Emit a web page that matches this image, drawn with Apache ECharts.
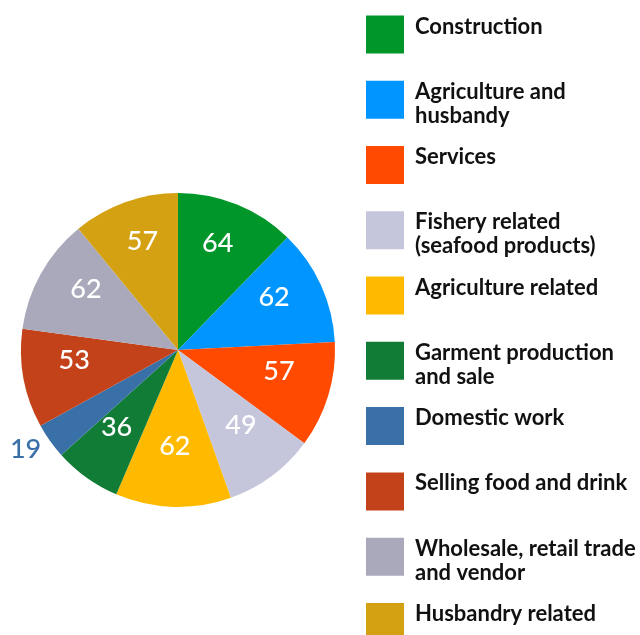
<!DOCTYPE html>
<html>
<head>
<meta charset="utf-8">
<script src="https://cdn.jsdelivr.net/npm/echarts@6/dist/echarts.min.js"></script>
<style>
html,body{margin:0;padding:0;background:#fff;}
#chart{width:640px;height:635px;}
</style>
</head>
<body>
<div id="chart"></div>
<script>
const categories = [
  'Construction',
  'Agriculture and husbandy',
  'Services',
  'Fishery related (seafood products)',
  'Agriculture related',
  'Garment production and sale',
  'Domestic work',
  'Selling food and drink',
  'Wholesale, retail trade and vendor',
  'Husbandry related'
];
const values = [64, 62, 57, 49, 62, 36, 19, 53, 62, 57];
const legendLabels = [
  ['Construction'],
  ['Agriculture and', 'husbandy'],
  ['Services'],
  ['Fishery related', '(seafood products)'],
  ['Agriculture related'],
  ['Garment production', 'and sale'],
  ['Domestic work'],
  ['Selling food and drink'],
  ['Wholesale, retail trade', 'and vendor'],
  ['Husbandry related']
];
const colors = ['#00962a', '#0095ff', '#ff4a00', '#c5c6dc', '#ffba00', '#117c36', '#3a70a8', '#c4421a', '#a9a9bb', '#d4a112'];
const outsideLabelIndex = 6;

const FONT = 'Lato, "Noto Sans", sans-serif';
const center = [178, 350];
const labelCenter = [178, 341];
const R = 157;

const mainData = categories.map((c, i) => ({ name: c, value: values[i], itemStyle: { color: colors[i] } }));
const innerLabelData = values.map((v, i) => ({
  value: v,
  label: { show: i !== outsideLabelIndex }
}));
const outerLabelData = values.map((v, i) => ({
  value: v,
  label: { show: i === outsideLabelIndex, color: colors[i] }
}));

const chart = echarts.init(document.getElementById('chart'), null, { renderer: 'canvas' });
chart.setOption({
  animation: false,
  color: colors,
  legend: {
    orient: 'vertical',
    left: 366,
    top: 10,
    height: 700,
    padding: 0,
    itemWidth: 38,
    itemHeight: 38,
    itemGap: 13.77,
    icon: 'rect',
    selectedMode: false,
    data: categories,
    formatter: function (name) {
      const lines = legendLabels[categories.indexOf(name)].slice();
      if (lines.length < 2) lines.push(' ');
      return '{s| }\n' + lines.map(l => '{t|' + l + '}').join('\n');
    },
    textStyle: {
      fontFamily: FONT,
      fontWeight: 'bold',
      fontSize: 22,
      color: '#111',
      rich: {
        s: { fontSize: 1, lineHeight: 8 },
        t: { fontFamily: FONT, fontWeight: 'bold', fontSize: 22, lineHeight: 24, color: '#111', padding: [0, 0, 0, 6] }
      }
    }
  },
  series: [
    {
      type: 'pie',
      center: center,
      radius: [0, R],
      startAngle: 90,
      clockwise: true,
      avoidLabelOverlap: false,
      label: { show: false },
      labelLine: { show: false },
      emphasis: { disabled: true },
      itemStyle: { borderWidth: 0 },
      data: mainData
    },
    {
      type: 'pie',
      center: labelCenter,
      radius: [0, 205],
      startAngle: 90,
      clockwise: true,
      silent: true,
      avoidLabelOverlap: false,
      itemStyle: { color: 'rgba(0,0,0,0)' },
      emphasis: { disabled: true },
      labelLine: { show: false },
      label: {
        position: 'inside',
        formatter: '{c}',
        color: '#fff',
        fontFamily: FONT,
        fontWeight: 500,
        fontSize: 27
      },
      data: innerLabelData
    },
    {
      type: 'pie',
      center: labelCenter,
      radius: [0, 368],
      startAngle: 90,
      clockwise: true,
      silent: true,
      avoidLabelOverlap: false,
      itemStyle: { color: 'rgba(0,0,0,0)' },
      emphasis: { disabled: true },
      labelLine: { show: false },
      label: {
        position: 'inside',
        formatter: '{c}',
        fontFamily: FONT,
        fontWeight: 500,
        fontSize: 27
      },
      data: outerLabelData
    }
  ]
});
</script>
</body>
</html>
